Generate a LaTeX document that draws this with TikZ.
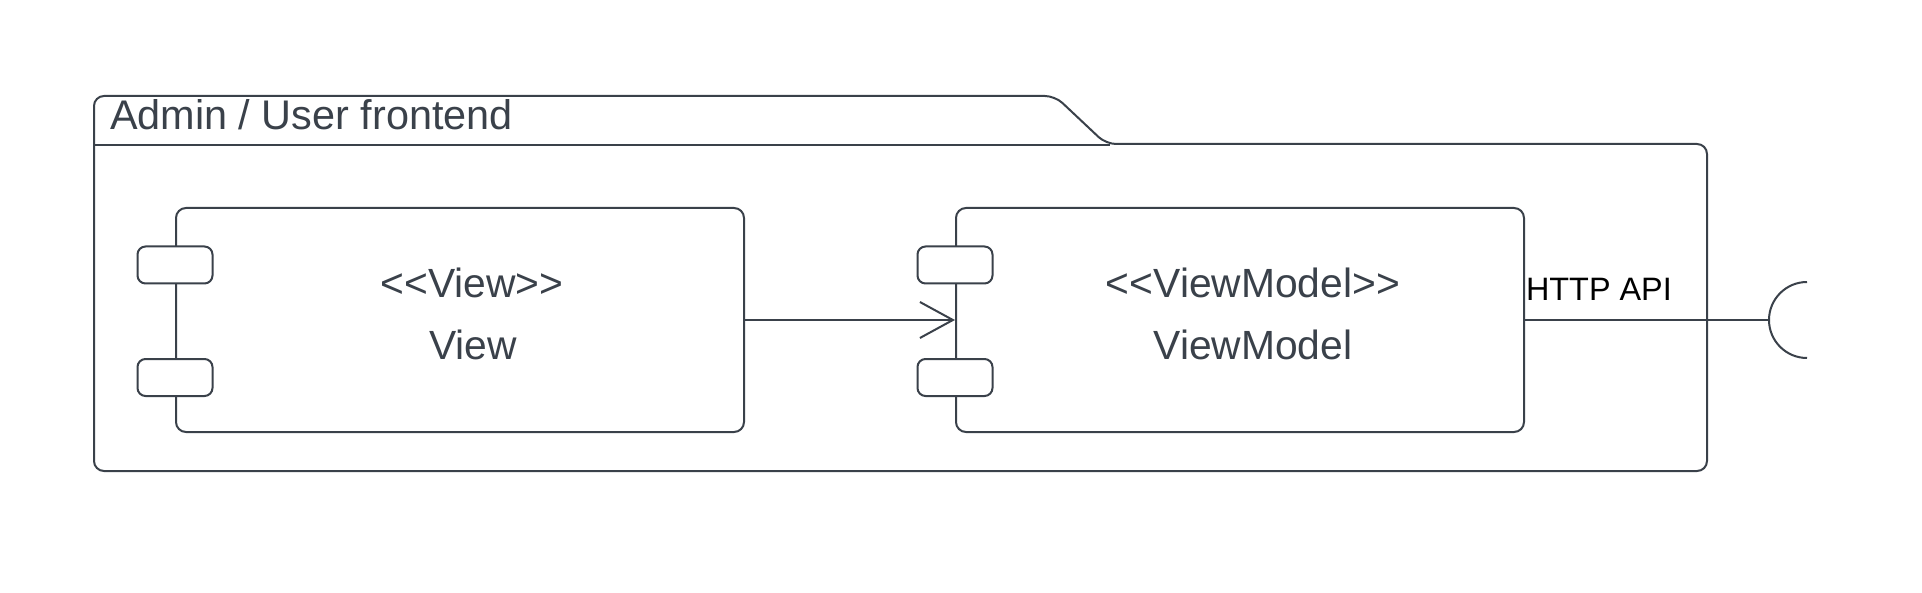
\documentclass[tikz,border=0pt]{standalone}
\usepackage{fontspec}
\setmainfont{Liberation Sans}
\usepackage{tikz}
\usetikzlibrary{positioning,arrows.meta}

\definecolor{linegray}{HTML}{3A414A}
\newcommand\stereo[1]{<\kern0pt<#1>\kern0pt>}

\begin{document}
\begin{tikzpicture}[x=0.5pt, y=-0.5pt, line width=1pt,
  every node/.style={inner sep=0pt, text=linegray},
  comp/.style={draw=linegray, rounded corners=5pt, minimum width=284pt, minimum height=112pt},
  port/.style={draw=linegray, fill=white, rounded corners=4pt, minimum width=37.5pt, minimum height=18.5pt},
  lbl/.style={anchor=base, font=\fontsize{20.4}{24}\selectfont}]
\useasboundingbox (0,0) rectangle (1922,593);
% package
\draw[linegray, rounded corners=5pt] (94,145) -- (94,96) -- (1055,96) -- (1106,144) -- (1707,144) -- (1707,471) -- (94,471) -- cycle;
\draw[linegray] (94,145) -- (1110,145);
\node[anchor=base west, font=\fontsize{20.7}{24}\selectfont] (pkg) at (109,130) {Admin / User frontend};
% components
\node[comp] (view) at (460,320) {};
\node[comp] (vm) at (1240,320) {};
\node[port] (vp1) at (view.west |- 0,265) {};
\node[port] (vp2) at (view.west |- 0,377.5) {};
\node[port] (mp1) at (vm.west |- 0,265) {};
\node[port] (mp2) at (vm.west |- 0,377.5) {};
\node[lbl] (viewst) at (472,298) {\stereo{View}};
\node[lbl] (viewname) at (473,359) {View};
\node[lbl] (vmst) at (1253,298) {\stereo{ViewModel}};
\node[lbl] (vmname) at (1253,359) {ViewModel};
% dependency
\draw[linegray, -{Straight Barb[length=16.5pt, width=18pt]}] (view.east) -- (vm.west);
% provided interface
\coordinate (sock) at (1769,320);
\draw[linegray] (vm.east) -- (sock);
\draw[linegray] (1807,282) arc[start angle=270, end angle=90, radius=38];
\node[anchor=base west, text=black, font=\fontsize{16.2}{19}\selectfont] (api) at (1525,300) {HTTP API};
\end{tikzpicture}
\end{document}
